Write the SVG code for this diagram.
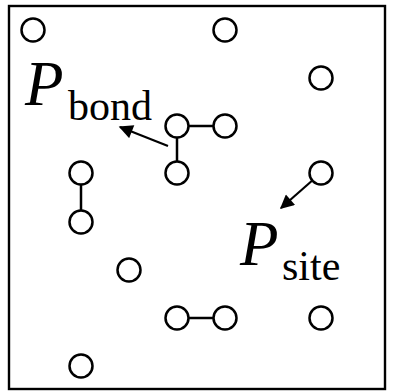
<svg xmlns="http://www.w3.org/2000/svg" width="393" height="391" viewBox="0 0 393 391">
<style>
.site{fill:#fff;stroke:#000;stroke-width:2.5}
.bond{stroke:#000;stroke-width:2.5;fill:none}
.arr{stroke:#000;stroke-width:2.2;fill:none}
.P{font-family:"Liberation Serif",serif;font-style:italic;font-size:63px}
.sub{font-family:"Liberation Serif",serif;font-size:42px}
</style>
<defs>
<marker id="ah2" viewBox="0 0 10 10" refX="9" refY="5" markerWidth="16" markerHeight="14" markerUnits="userSpaceOnUse" orient="auto"><path d="M0,0L10,5L0,10z" fill="#000"/></marker>
</defs>
<rect x="9" y="6" width="376" height="383" fill="#fff" stroke="#000" stroke-width="2.4"/>
<g id="connectors">
<line class="bond" x1="177" y1="126" x2="225" y2="126"/>
<line class="bond" x1="177" y1="126" x2="177" y2="173"/>
<line class="bond" x1="81" y1="173" x2="81" y2="222"/>
<line class="bond" x1="177" y1="318" x2="225" y2="318"/>
<line class="arr" x1="168" y1="146" x2="120" y2="127" marker-end="url(#ah2)"/>
<line class="arr" x1="314" y1="179" x2="281" y2="208" marker-end="url(#ah2)"/>
</g>
<g id="n1"><circle class="site" cx="33" cy="30" r="11.5"/></g>
<g id="n2"><circle class="site" cx="225" cy="30" r="11.5"/></g>
<g id="n3"><circle class="site" cx="321" cy="78" r="11.5"/></g>
<g id="n4"><circle class="site" cx="177" cy="126" r="11.5"/></g>
<g id="n5"><circle class="site" cx="225" cy="126" r="11.5"/></g>
<g id="n6"><circle class="site" cx="177" cy="173" r="11.5"/></g>
<g id="n7"><circle class="site" cx="81" cy="173" r="11.5"/></g>
<g id="n8"><circle class="site" cx="321" cy="173" r="11.5"/></g>
<g id="n9"><circle class="site" cx="81" cy="222" r="11.5"/></g>
<g id="n10"><circle class="site" cx="129" cy="270" r="11.5"/></g>
<g id="n11"><circle class="site" cx="177" cy="318" r="11.5"/></g>
<g id="n12"><circle class="site" cx="225" cy="318" r="11.5"/></g>
<g id="n13"><circle class="site" cx="321" cy="318" r="11.5"/></g>
<g id="n14"><circle class="site" cx="81" cy="366" r="11.5"/></g>
<g id="label-bond"><text x="25" y="105" class="P">P</text><text x="68" y="120" class="sub">bond</text></g>
<g id="label-site"><text x="240" y="265" class="P">P</text><text x="282" y="280" class="sub">site</text></g>
</svg>
